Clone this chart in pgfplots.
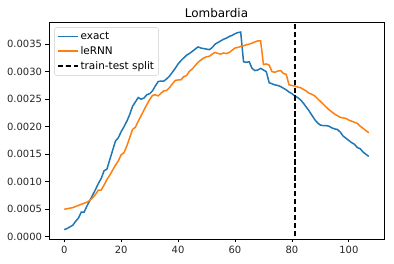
\documentclass[border=0pt]{standalone}
\usepackage{fontspec}
\setmainfont{DejaVu Sans}
\usepackage{pgfplots}
\usepackage{pgfplotstable}
\usetikzlibrary{calc}
\pgfplotsset{compat=1.18}
\definecolor{tabblue}{HTML}{1F77B4}
\definecolor{taborange}{HTML}{FF7F0E}
\definecolor{legedge}{HTML}{CCCCCC}
\pgfplotstableread{
x exact lernn
0 0.00013 0.00050
1 0.00015 0.00051
2 0.00018 0.00052
3 0.00021 0.00053
4 0.00028 0.00055
5 0.00034 0.00057
6 0.00045 0.00059
7 0.00045 0.00061
8 0.00056 0.00063
9 0.00066 0.00066
10 0.00076 0.00071
11 0.00086 0.00077
12 0.00097 0.00085
13 0.00106 0.00085
14 0.00120 0.00094
15 0.00123 0.00104
16 0.00140 0.00112
17 0.00157 0.00121
18 0.00174 0.00130
19 0.00180 0.00138
20 0.00191 0.00149
21 0.00200 0.00153
22 0.00210 0.00165
23 0.00222 0.00180
24 0.00237 0.00195
25 0.00245 0.00199
26 0.00253 0.00210
27 0.00250 0.00220
28 0.00252 0.00230
29 0.00258 0.00240
30 0.00260 0.00249
31 0.00265 0.00257
32 0.00274 0.00258
33 0.00282 0.00256
34 0.00283 0.00261
35 0.00283 0.00265
36 0.00287 0.00266
37 0.00292 0.00271
38 0.00299 0.00278
39 0.00306 0.00284
40 0.00314 0.00285
41 0.00320 0.00285
42 0.00325 0.00291
43 0.00330 0.00293
44 0.00333 0.00301
45 0.00337 0.00305
46 0.00341 0.00311
47 0.00345 0.00317
48 0.00343 0.00321
49 0.00342 0.00325
50 0.00341 0.00327
51 0.00340 0.00328
52 0.00344 0.00332
53 0.00350 0.00335
54 0.00353 0.00333
55 0.00356 0.00332
56 0.00359 0.00334
57 0.00361 0.00333
58 0.00364 0.00335
59 0.00366 0.00339
60 0.00369 0.00343
61 0.00371 0.00344
62 0.00372 0.00346
63 0.00318 0.00347
64 0.00317 0.00349
65 0.00318 0.00350
66 0.00306 0.00352
67 0.00302 0.00354
68 0.00303 0.00356
69 0.00306 0.00356
70 0.00303 0.00313
71 0.00300 0.00314
72 0.00280 0.00312
73 0.00278 0.00300
74 0.00276 0.00299
75 0.00275 0.00301
76 0.00273 0.00302
77 0.00270 0.00297
78 0.00267 0.00295
79 0.00263 0.00276
80 0.00260 0.00275
81 0.00256 0.00274
82 0.00253 0.00272
83 0.00249 0.00271
84 0.00243 0.00268
85 0.00236 0.00265
86 0.00229 0.00261
87 0.00221 0.00259
88 0.00213 0.00256
89 0.00207 0.00251
90 0.00203 0.00246
91 0.00202 0.00241
92 0.00202 0.00236
93 0.00201 0.00231
94 0.00198 0.00227
95 0.00196 0.00223
96 0.00195 0.00220
97 0.00190 0.00217
98 0.00183 0.00216
99 0.00179 0.00215
100 0.00175 0.00212
101 0.00171 0.00210
102 0.00168 0.00208
103 0.00162 0.00206
104 0.00160 0.00201
105 0.00154 0.00197
106 0.00150 0.00193
107 0.00146 0.00189
}\datatable
\begin{document}
\begin{tikzpicture}
\begin{axis}[
  name=ax,
  scale only axis,
  width=335bp, height=216.3bp,
  xmin=-5.35, xmax=112.35,
  ymin=-0.00004, ymax=0.00389,
  xtick={0,20,40,60,80,100},
  ytick={0,0.0005,0.001,0.0015,0.002,0.0025,0.003,0.0035},
  scaled y ticks=false,
  yticklabel style={/pgf/number format/.cd, fixed, fixed zerofill, precision=4, assume math mode=true},
  xticklabel style={/pgf/number format/assume math mode=true},
  tick label style={font=\fontsize{10}{12}\selectfont, color=black!85},
  xtick pos=left, ytick pos=left,
  tick align=outside,
  major tick length=3.5bp,
  every tick/.style={black, line width=0.8bp},
  axis line style={black, line width=0.8bp},
  title={Lombardia},
  every axis title/.style={at={(0.5,1)}, anchor=base, yshift=5.5bp, inner sep=0pt, font=\fontsize{12}{14}\selectfont},
  legend cell align=left,
  legend style={at={(0.016,0.978)}, anchor=north west, draw=legedge, rounded corners=2bp,
    fill=white, fill opacity=0.8, text opacity=1, font=\fontsize{10.5}{12}\selectfont,
    inner sep=2.5bp, row sep=1.5bp,
    /tikz/every even column/.append style={column sep=2bp}},
  legend image code/.code={\draw[mark repeat=2,mark phase=2,#1] plot coordinates {(0bp,0bp) (10bp,0bp) (20bp,0bp)};},
]
\addplot[color=tabblue, line width=1.5bp] table[x=x, y=exact] {\datatable};
\addlegendentry{exact}
\addplot[color=taborange, line width=1.5bp] table[x=x, y=lernn] {\datatable};
\addlegendentry{leRNN}
\addplot[color=black, line width=1.5bp, dash pattern=on 5.55bp off 2.4bp] coordinates {(81,-0.001) (81,0.005)};
\addlegendentry{train-test split}
\end{axis}
\pgfresetboundingbox
\path[use as bounding box] ($(ax.south west)+(-49bp,-25bp)$) rectangle ($(ax.north east)+(10bp,22.7bp)$);
\end{tikzpicture}
\end{document}
